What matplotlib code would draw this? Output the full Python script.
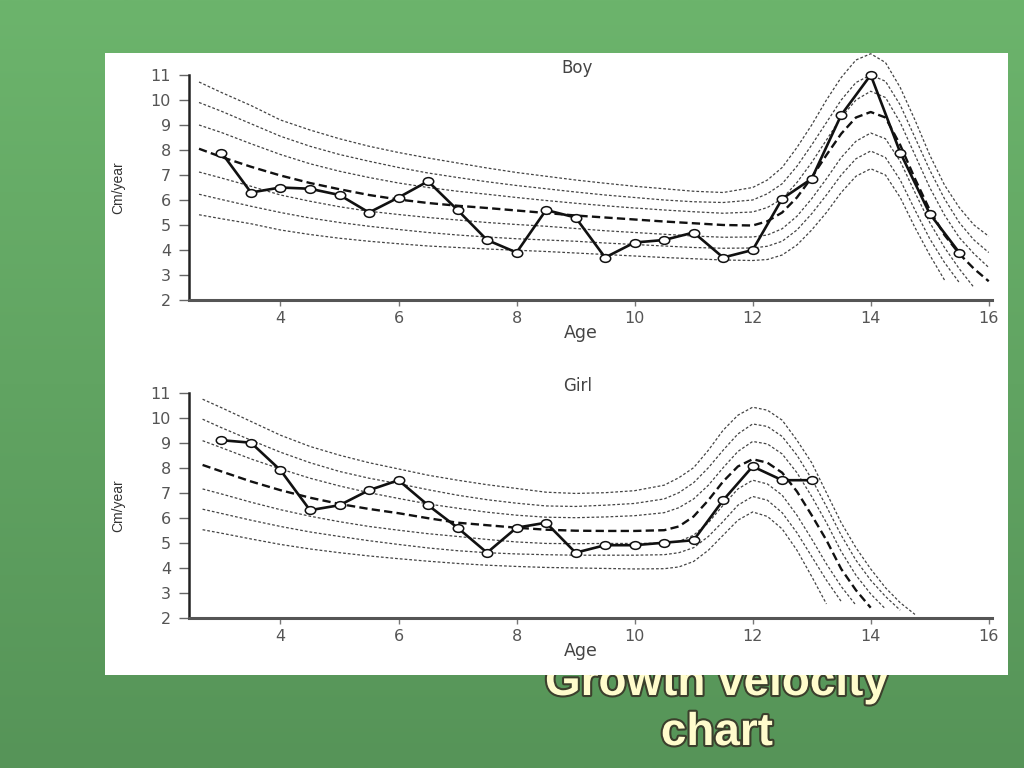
import numpy as np
import matplotlib
matplotlib.use('Agg')
import matplotlib.pyplot as plt
import matplotlib.path as mpath
from matplotlib.patches import Rectangle
from matplotlib.transforms import Affine2D
import matplotlib.patheffects as pe

nan = np.nan

# measured points
boy_age_pts = [3, 3.5, 4, 4.5, 5, 5.5, 6, 6.5, 7, 7.5, 8, 8.5, 9, 9.5, 10, 10.5,
               11, 11.5, 12, 12.5, 13, 13.5, 14, 14.5, 15, 15.5]
boy_vel = [7.9, 6.3, 6.5, 6.45, 6.2, 5.5, 6.1, 6.75, 5.6, 4.4, 3.9, 5.6, 5.3, 3.7,
           4.3, 4.4, 4.7, 3.7, 4.0, 6.05, 6.85, 9.4, 11.0, 7.9, 5.45, 3.9]

girl_age_pts = [3, 3.5, 4, 4.5, 5, 5.5, 6, 6.5, 7, 7.5, 8, 8.5, 9, 9.5, 10, 10.5,
                11, 11.5, 12, 12.5, 13]
girl_vel = [9.1, 9.0, 7.9, 6.3, 6.5, 7.1, 7.5, 6.5, 5.6, 4.6, 5.6, 5.8, 4.6, 4.9,
            4.9, 5.0, 5.1, 6.7, 8.05, 7.5, 7.5]

# centile curves (boy)
boy_age = [2.62, 3, 3.5, 4, 4.5, 5, 5.5, 6, 6.5, 7, 7.5, 8, 8.5, 9, 9.5, 10, 10.5, 11,
           11.5, 12, 12.25, 12.5, 12.75, 13, 13.25, 13.5, 13.75, 14, 14.25, 14.5,
           14.75, 15, 15.25, 15.5, 15.75, 16]
boy_c1 = [10.72, 10.3, 9.78, 9.2, 8.8, 8.45, 8.15, 7.9, 7.68, 7.48, 7.28, 7.1, 6.95,
          6.8, 6.67, 6.55, 6.45, 6.35, 6.3, 6.5,
          6.8, 7.3, 8.1, 9.0, 10.0, 10.9, 11.6, 11.85, 11.5, 10.5, 9.2, 7.8, 6.6, 5.7, 5.0, 4.55]
boy_c2 = [9.9, 9.55, 9.05, 8.55, 8.15, 7.82, 7.55, 7.3, 7.08, 6.9, 6.73, 6.58, 6.45,
          6.32, 6.2, 6.1, 6.0, 5.93, 5.9, 6.0,
          6.25, 6.65, 7.35, 8.2, 9.1, 10.0, 10.7, 11.0, 10.75, 9.8, 8.5, 7.2, 6.05, 5.1, 4.4, 3.9]
boy_c3 = [9.0, 8.7, 8.25, 7.82, 7.45, 7.15, 6.9, 6.68, 6.5, 6.35, 6.23, 6.1, 5.98,
          5.87, 5.77, 5.68, 5.6, 5.53, 5.47, 5.52,
          5.7, 6.05, 6.7, 7.5, 8.4, 9.3, 10.0, 10.35, 10.1, 9.1, 7.8, 6.5, 5.4, 4.5, 3.85, 3.3]
boy_med = [8.05, 7.72, 7.33, 6.98, 6.68, 6.43, 6.2, 6.02, 5.88, 5.77, 5.68, 5.58, 5.48,
           5.38, 5.3, 5.22, 5.14, 5.07, 5.0, 4.98,
           5.15, 5.5, 6.1, 6.9, 7.8, 8.65, 9.3, 9.52, 9.3, 8.2, 6.85, 5.6, 4.6, 3.85, 3.25, 2.75]
boy_c5 = [7.12, 6.88, 6.55, 6.2, 5.95, 5.73, 5.55, 5.42, 5.3, 5.2, 5.1, 5.02, 4.95,
          4.86, 4.77, 4.7, 4.63, 4.56, 4.51, 4.52,
          4.6, 4.85, 5.35, 6.05, 6.85, 7.7, 8.35, 8.68, 8.45, 7.55, 6.3, 5.1, 4.1, 3.25, 2.5, nan]
boy_c6 = [6.23, 6.02, 5.75, 5.5, 5.28, 5.1, 4.95, 4.82, 4.7, 4.6, 4.52, 4.45, 4.4,
          4.35, 4.28, 4.22, 4.16, 4.1, 4.07, 4.08,
          4.15, 4.35, 4.8, 5.45, 6.2, 7.0, 7.65, 7.96, 7.7, 6.8, 5.6, 4.45, 3.5, 2.7, nan, nan]
boy_c7 = [5.41, 5.25, 5.05, 4.8, 4.62, 4.47, 4.35, 4.25, 4.16, 4.1, 4.04, 3.99, 3.94,
          3.88, 3.82, 3.76, 3.7, 3.65, 3.6, 3.58,
          3.62, 3.8, 4.2, 4.8, 5.5, 6.3, 6.95, 7.25, 7.0, 6.1, 4.9, 3.8, 2.8, nan, nan, nan]

# centile curves (girl)
girl_age = [2.68, 3, 3.5, 4, 4.5, 5, 5.5, 6, 6.5, 7, 7.5, 8, 8.5, 9, 9.5, 10, 10.5,
            10.75, 11, 11.25, 11.5, 11.75, 12, 12.25, 12.5, 12.75, 13, 13.25, 13.5,
            13.75, 14, 14.25, 14.5, 14.75]
girl_c1 = [10.74, 10.4, 9.85, 9.3, 8.85, 8.5, 8.2, 7.95, 7.7, 7.5, 7.32, 7.17, 7.02,
           6.97, 7.0, 7.08, 7.3,
           7.6, 8.0, 8.7, 9.5, 10.1, 10.42, 10.3, 9.9, 9.1, 8.2, 7.0, 5.8, 4.8, 3.95, 3.2, 2.6, 2.13]
girl_c2 = [9.94, 9.6, 9.1, 8.62, 8.2, 7.85, 7.58, 7.36, 7.12, 6.9, 6.72, 6.58, 6.47,
           6.45, 6.5, 6.57, 6.75,
           7.0, 7.4, 8.0, 8.7, 9.35, 9.75, 9.65, 9.25, 8.5, 7.55, 6.45, 5.3, 4.3, 3.5, 2.85, 2.3, nan]
girl_c3 = [9.08, 8.8, 8.35, 7.95, 7.58, 7.27, 7.0, 6.77, 6.55, 6.38, 6.22, 6.1, 6.02,
           6.0, 6.03, 6.08, 6.2,
           6.4, 6.75, 7.3, 8.0, 8.65, 9.05, 8.95, 8.55, 7.8, 6.85, 5.8, 4.65, 3.7, 2.95, 2.35, nan, nan]
girl_med = [8.11, 7.85, 7.45, 7.1, 6.8, 6.55, 6.35, 6.18, 5.98, 5.8, 5.7, 5.6, 5.52,
            5.48, 5.47, 5.47, 5.5,
            5.65, 6.05, 6.7, 7.45, 8.05, 8.34, 8.2, 7.8, 7.05, 6.1, 5.1, 3.95, 3.1, 2.4, nan, nan, nan]
girl_c5 = [7.15, 6.95, 6.62, 6.32, 6.06, 5.84, 5.65, 5.5, 5.36, 5.25, 5.13, 5.03, 4.97,
           4.96, 4.97, 4.97, 4.98,
           5.05, 5.3, 5.8, 6.5, 7.15, 7.5, 7.35, 6.9, 6.1, 5.15, 4.15, 3.25, 2.5, nan, nan, nan, nan]
girl_c6 = [6.34, 6.17, 5.9, 5.65, 5.43, 5.25, 5.08, 4.93, 4.79, 4.68, 4.6, 4.55, 4.52,
           4.5, 4.5, 4.5, 4.52,
           4.6, 4.8, 5.25, 5.85, 6.5, 6.85, 6.7, 6.2, 5.4, 4.45, 3.5, 2.65, nan, nan, nan, nan, nan]
girl_c7 = [5.52, 5.38, 5.15, 4.93, 4.75, 4.6, 4.47, 4.36, 4.26, 4.17, 4.1, 4.05, 4.01,
           3.99, 3.97, 3.95, 3.96,
           4.03, 4.25, 4.7, 5.3, 5.9, 6.23, 6.05, 5.55, 4.7, 3.65, 2.55, nan, nan, nan, nan, nan, nan]

y_ticks = list(range(2, 12))
x_ticks = [4, 6, 8, 10, 12, 14, 16]

W, H = 1024, 768
fig = plt.figure(figsize=(W / 100, H / 100), dpi=100)

# green slide background
bg = fig.add_axes([0, 0, 1, 1], zorder=-3)
top = np.array([108, 180, 108]) / 255
bot = np.array([86, 148, 88]) / 255
t = np.linspace(0, 1, 256)[:, None]
grad = top[None, :] * (1 - t) + bot[None, :] * t
bg.imshow(grad[:, None, :], extent=[0, 1, 0, 1], aspect='auto')
bg.set_xlim(0, 1)
bg.set_ylim(0, 1)
bg.axis('off')

# slide title (partly hidden under the picture)
stroke = [pe.withStroke(linewidth=3, foreground='#3b3f2c')]
fig.text(717 / W, 1 - 695 / H, 'Growth velocity', ha='center', va='baseline',
         fontsize=33, fontweight='bold', family='Liberation Sans',
         color='#fffccc', path_effects=stroke, zorder=-2)
fig.text(717 / W, 1 - 745 / H, 'chart', ha='center', va='baseline',
         fontsize=33, fontweight='bold', family='Liberation Sans',
         color='#fffccc', path_effects=stroke, zorder=-2)

# white picture
fig.add_artist(Rectangle((105 / W, 1 - 675 / H), 903 / W, 622 / H,
                         transform=fig.transFigure, facecolor='white',
                         edgecolor='none', zorder=-1))

circ = mpath.Path.unit_circle()
oval = Affine2D().scale(1.35, 1.0).transform_path(circ)


def panel(top_px, title, ages, curves, med, pts_x, pts_y):
    ax = fig.add_axes([189 / W, 1 - (top_px + 225) / H, 802.7 / W, 225 / H])
    ax.set_facecolor('none')
    for c in curves:
        ax.plot(ages, c, color='#444444', lw=0.9, linestyle=(0, (2.2, 1.6)),
                clip_on=False)
    ax.plot(ages, med, color='#111111', lw=1.7, linestyle=(0, (3.5, 1.8)),
            clip_on=False)
    ax.plot(pts_x, pts_y, color='#111111', lw=1.9, marker=oval, ms=7.5,
            mfc='white', mec='#111111', mew=1.1, clip_on=False, zorder=4)
    ax.set_xlim(2.45, 16.05)
    ax.set_ylim(2, 11)
    ax.set_xticks(x_ticks)
    ax.set_yticks(y_ticks)
    for s in ['top', 'right']:
        ax.spines[s].set_visible(False)
    ax.spines['left'].set_linewidth(1.8)
    ax.spines['left'].set_color('#222222')
    ax.spines['bottom'].set_linewidth(2.2)
    ax.spines['bottom'].set_color('#555555')
    ax.tick_params(axis='y', length=7, width=1, color='#666666', pad=6,
                   labelsize=11.5, labelcolor='#555555')
    ax.tick_params(axis='x', length=4, width=1, color='#777777', pad=4,
                   labelsize=11.5, labelcolor='#555555')
    ax.text(0.484, 1.03, title, transform=ax.transAxes, ha='center',
            va='center', fontsize=12, color='#444444')
    ax.text(0.488, -0.148, 'Age', transform=ax.transAxes, ha='center',
            va='center', fontsize=12.5, color='#444444')
    fig.text(118 / W, 1 - (top_px + 112.5) / H, 'Cm/year', rotation=90,
             ha='center', va='center', fontsize=10, fontstretch='condensed',
             family=['Liberation Sans Narrow', 'Liberation Sans', 'DejaVu Sans'],
             color='#333333')
    return ax


panel(75, 'Boy', boy_age, [boy_c1, boy_c2, boy_c3, boy_c5, boy_c6, boy_c7],
      boy_med, boy_age_pts, boy_vel)
panel(392.7, 'Girl', girl_age, [girl_c1, girl_c2, girl_c3, girl_c5, girl_c6, girl_c7],
      girl_med, girl_age_pts, girl_vel)

fig.savefig('out.png', dpi=100)
